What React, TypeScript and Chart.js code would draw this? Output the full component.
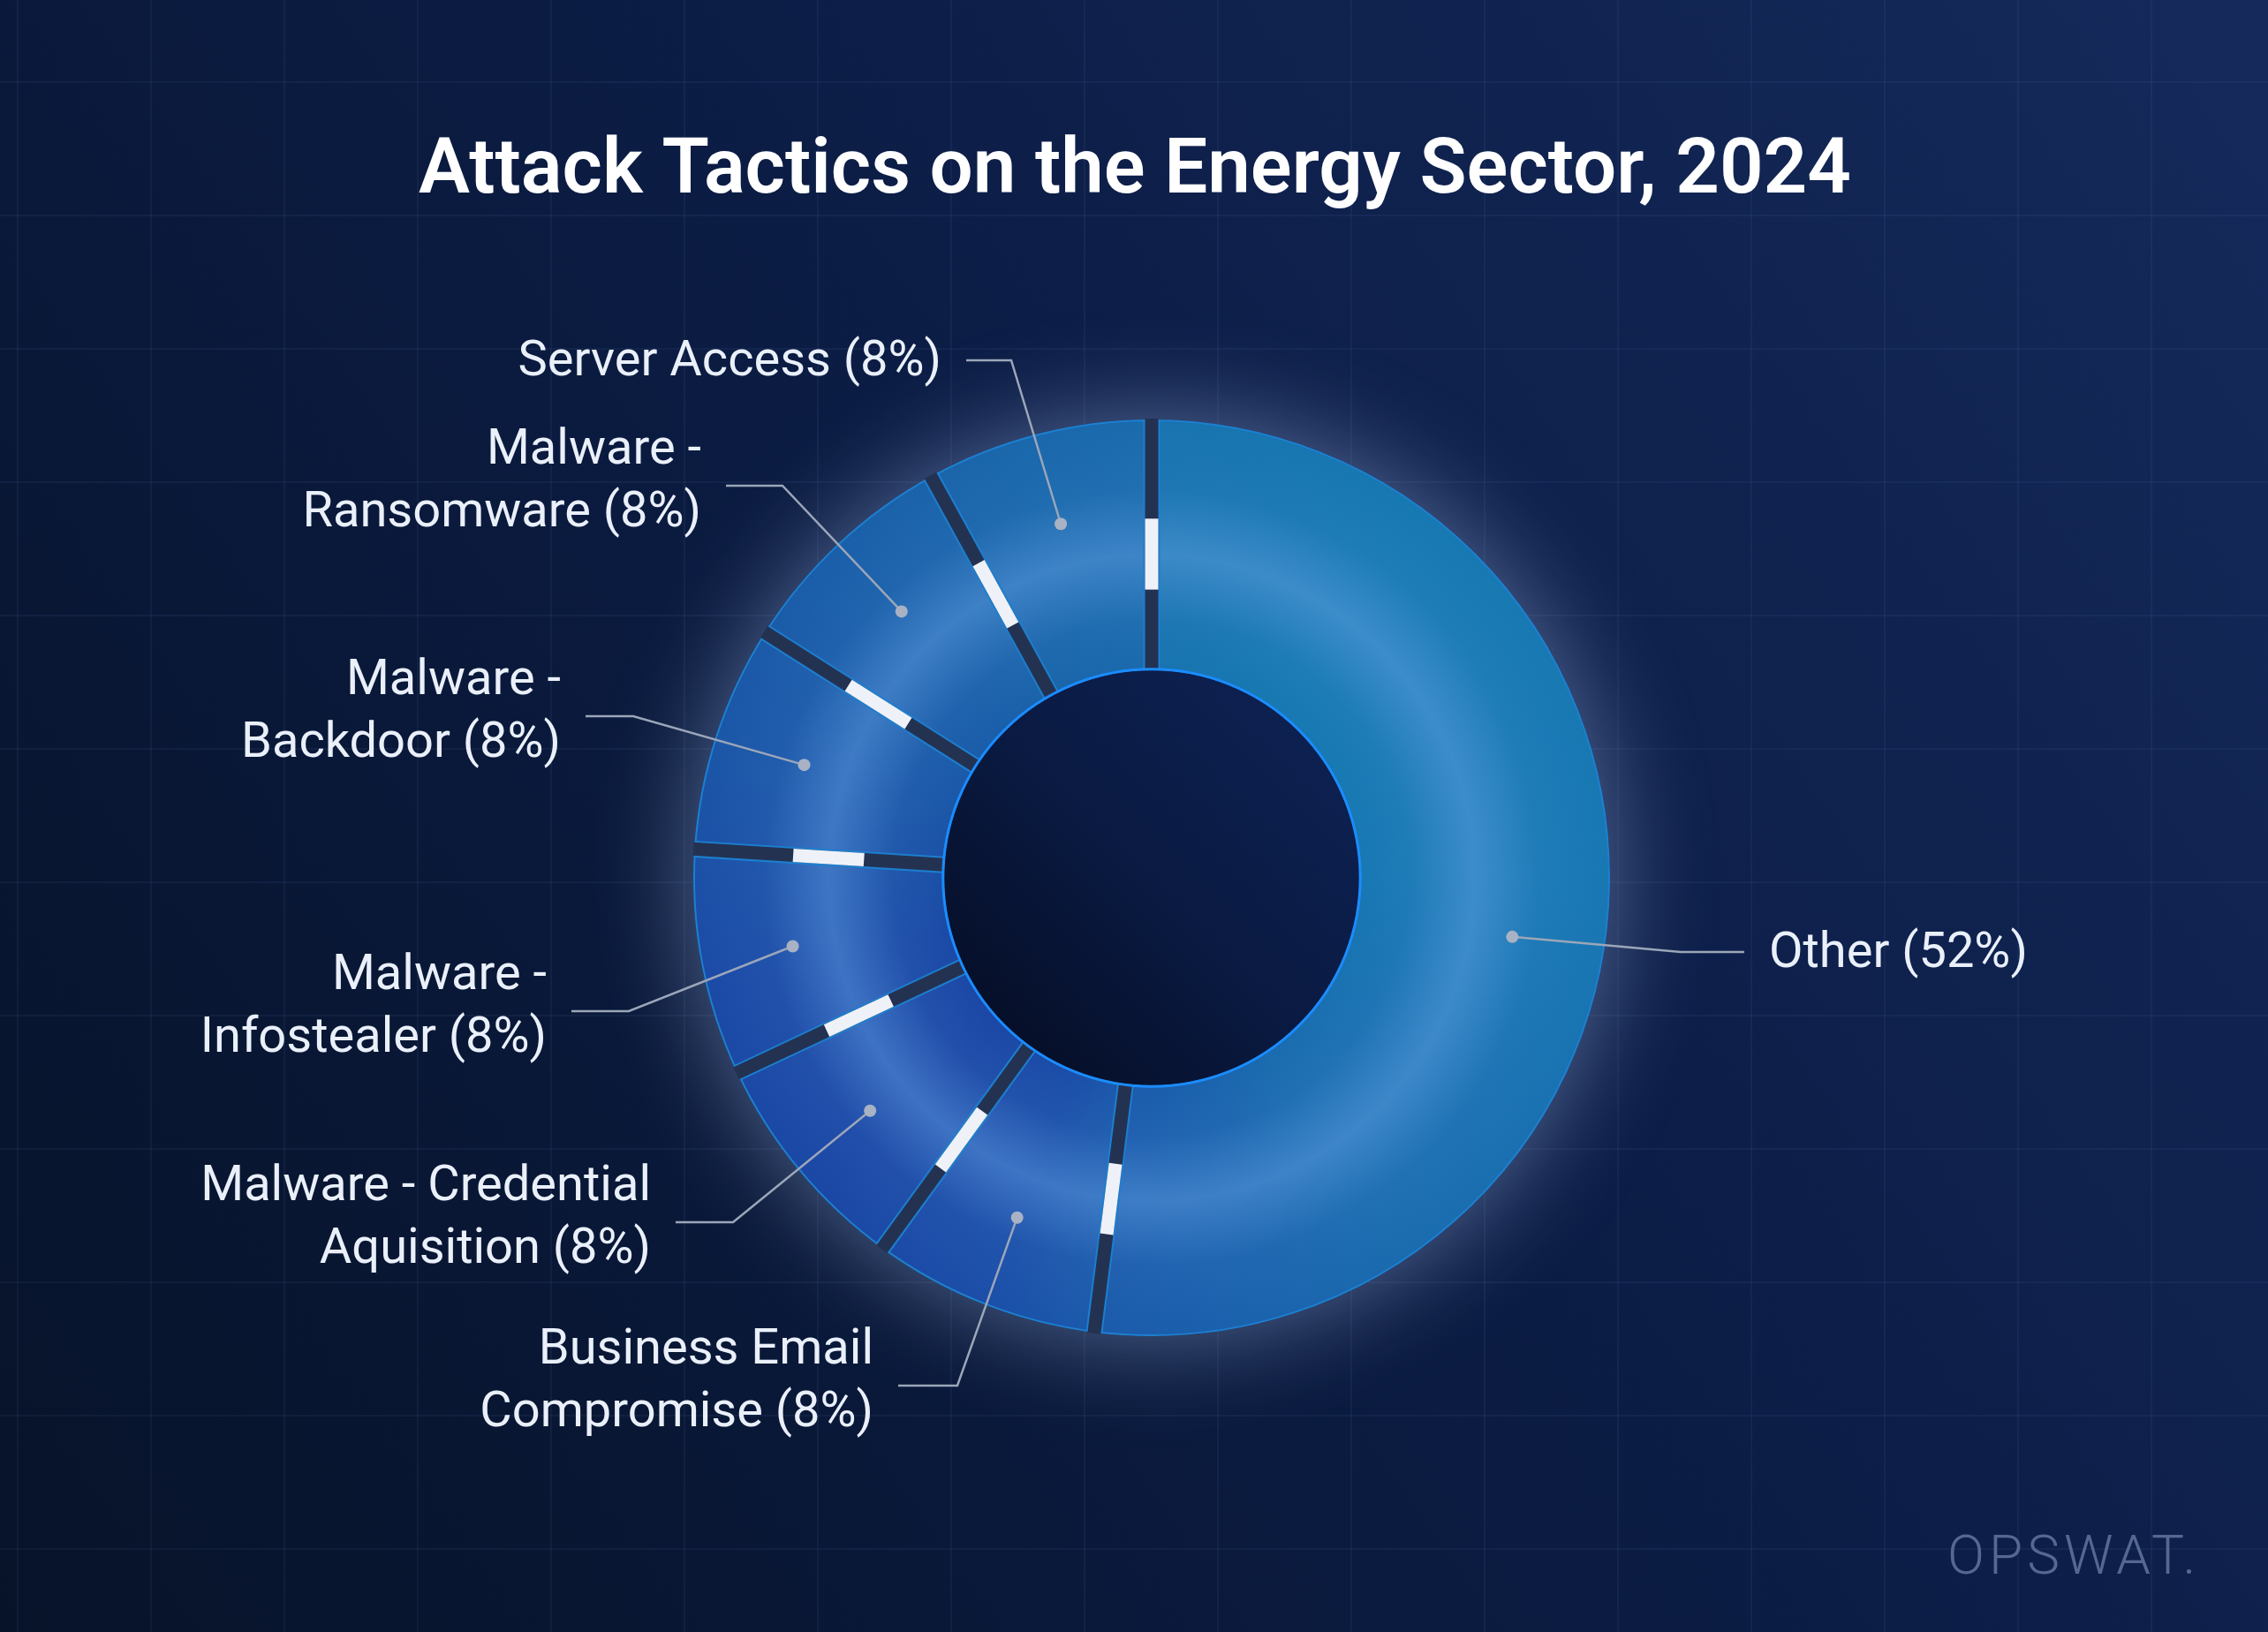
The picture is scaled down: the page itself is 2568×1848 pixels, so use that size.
import React, { useEffect, useRef } from "react";
import { Chart, registerables } from "chart.js";

Chart.register(...registerables);

// ---------- data ----------
const TITLE = "Attack Tactics on the Energy Sector, 2024";
const categories = [
  "Other",
  "Business Email Compromise",
  "Malware - Credential Aquisition",
  "Malware - Infostealer",
  "Malware - Backdoor",
  "Malware - Ransomware",
  "Server Access",
];
const shares = [52, 8, 8, 8, 8, 8, 8];
const BRAND = "OPSWAT.";

// ---------- layout / style (not data) ----------
// label leader geometry, offsets relative to the doughnut centre
const labelLayout = [
  { shift: 5.7, elbow: [599, 84], end: [671, 84], side: "right", breakAfter: "" },
  { shift: 0, elbow: [-220, 575], end: [-287, 575], side: "left", breakAfter: "Business Email" },
  { shift: 0, elbow: [-474, 390], end: [-539, 390], side: "left", breakAfter: "Malware - Credential" },
  { shift: 0, elbow: [-592, 151], end: [-657, 151], side: "left", breakAfter: "Malware -" },
  { shift: 0, elbow: [-587, -183], end: [-641, -183], side: "left", breakAfter: "Malware -" },
  { shift: 0, elbow: [-418, -444], end: [-482, -444], side: "left", breakAfter: "Malware -" },
  { shift: 0, elbow: [-159, -586], end: [-210, -586], side: "left", breakAfter: "" },
];

const W = 2568;
const H = 1848;
const FONT = "Roboto, 'Noto Sans', 'DejaVu Sans', sans-serif";

function labelLines(i: number): string[] {
  const full = `${categories[i]} (${shares[i]}%)`;
  const b = labelLayout[i].breakAfter;
  if (!b) return [full];
  return [full.slice(0, b.length).trim(), full.slice(b.length).trim()];
}

function sliceFill(c: any) {
  const chart = c.chart;
  const area = chart.chartArea;
  if (!area || !(chart.ctx as any).createConicGradient) return "#1a62aa";
  const cx = (area.left + area.right) / 2;
  const cy = (area.top + area.bottom) / 2;
  const g = (chart.ctx as any).createConicGradient(-Math.PI / 2, cx, cy);
  g.addColorStop(0.0, "#1873ae");
  g.addColorStop(0.1, "#1779b2");
  g.addColorStop(0.25, "#1878b3");
  g.addColorStop(0.4, "#1a6caf");
  g.addColorStop(0.52, "#1b5aab");
  g.addColorStop(0.56, "#1b4ea8");
  g.addColorStop(0.63, "#1b47a5");
  g.addColorStop(0.71, "#1b4aa6");
  g.addColorStop(0.79, "#1b55a7");
  g.addColorStop(0.87, "#1a5ea9");
  g.addColorStop(0.95, "#1a67ab");
  g.addColorStop(1.0, "#1a6bad");
  return g;
}

const decor = {
  id: "decor",
  beforeDraw(chart: any) {
    const { ctx, width, height } = chart;
    ctx.save();
    const bg = ctx.createLinearGradient(width, 0, 0, height);
    bg.addColorStop(0, "#152a5b");
    bg.addColorStop(0.45, "#0c1d46");
    bg.addColorStop(1, "#071329");
    ctx.fillStyle = bg;
    ctx.fillRect(0, 0, width, height);
    ctx.strokeStyle = "rgba(130,160,220,0.07)";
    ctx.lineWidth = 2;
    for (let x = 20; x < width; x += 151) {
      ctx.beginPath();
      ctx.moveTo(x, 0);
      ctx.lineTo(x, height);
      ctx.stroke();
    }
    for (let y = 93; y < height; y += 151) {
      ctx.beginPath();
      ctx.moveTo(0, y);
      ctx.lineTo(width, y);
      ctx.stroke();
    }
    ctx.restore();
  },
  beforeDatasetsDraw(chart: any) {
    const el = chart.getDatasetMeta(0).data[0];
    if (!el) return;
    const { x, y, innerRadius, outerRadius } = el.getProps(["x", "y", "innerRadius", "outerRadius"], true);
    const ctx = chart.ctx;
    ctx.save();
    // glow + separator colour underneath the ring
    ctx.shadowColor = "rgba(170,195,240,0.48)";
    ctx.shadowBlur = 115;
    ctx.fillStyle = "#243252";
    ctx.beginPath();
    ctx.arc(x, y, outerRadius + 1, 0, Math.PI * 2);
    ctx.fill();
    ctx.shadowColor = "transparent";
    ctx.shadowBlur = 0;
    // hole
    const hg = ctx.createLinearGradient(x + innerRadius, y - innerRadius, x - innerRadius, y + innerRadius);
    hg.addColorStop(0, "#0e2356");
    hg.addColorStop(0.5, "#0a1a42");
    hg.addColorStop(1, "#040b1f");
    ctx.fillStyle = hg;
    ctx.beginPath();
    ctx.arc(x, y, innerRadius, 0, Math.PI * 2);
    ctx.fill();
    ctx.restore();
  },
  afterDatasetsDraw(chart: any) {
    const ctx = chart.ctx;
    const arcs = chart.getDatasetMeta(0).data;
    if (!arcs.length) return;
    const props = arcs.map((a: any) =>
      a.getProps(["x", "y", "startAngle", "endAngle", "innerRadius", "outerRadius"], true)
    );
    const { x: cx, y: cy, innerRadius: rIn, outerRadius: rOut } = props[0];
    const band = rOut - rIn;
    ctx.save();
    // light band across the ring
    props.forEach((p: any) => {
      const g = ctx.createRadialGradient(cx, cy, rIn, cx, cy, rOut);
      g.addColorStop(0, "rgba(105,165,232,0)");
      g.addColorStop(0.2, "rgba(105,165,232,0.08)");
      g.addColorStop(0.46, "rgba(105,165,232,0.45)");
      g.addColorStop(0.72, "rgba(105,165,232,0.08)");
      g.addColorStop(1, "rgba(105,165,232,0)");
      ctx.fillStyle = g;
      ctx.beginPath();
      ctx.arc(cx, cy, rOut - 1, p.startAngle, p.endAngle);
      ctx.arc(cx, cy, rIn + 1, p.endAngle, p.startAngle, true);
      ctx.closePath();
      ctx.fill();
    });
    // separators with white marks
    props.forEach((p: any) => {
      ctx.save();
      ctx.translate(cx, cy);
      ctx.rotate(p.startAngle);
      ctx.fillStyle = "#1c7fd0";
      ctx.fillRect(rIn, -9.5, band + 1, 19);
      ctx.fillStyle = "#243252";
      ctx.fillRect(rIn - 1, -7.5, band + 3, 15);
      ctx.fillStyle = "#eef2f8";
      ctx.fillRect(rIn + band * 0.32, -7.5, band * 0.285, 15);
      ctx.restore();
    });
    // hole rim
    ctx.strokeStyle = "#1b8cff";
    ctx.lineWidth = 3;
    ctx.beginPath();
    ctx.arc(cx, cy, rIn, 0, Math.PI * 2);
    ctx.stroke();

    // leaders, dots and labels
    const rDot = rIn + band * 0.63;
    ctx.font = `400 56px ${FONT}`;
    ctx.textBaseline = "alphabetic";
    props.forEach((p: any, i: number) => {
      const L = labelLayout[i];
      const mid = (p.startAngle + p.endAngle) / 2 + (L.shift * Math.PI) / 180;
      const dx = cx + rDot * Math.cos(mid);
      const dy = cy + rDot * Math.sin(mid);
      const ex = cx + L.elbow[0];
      const ey = cy + L.elbow[1];
      const tx = cx + L.end[0];
      const ty = cy + L.end[1];
      ctx.strokeStyle = "#9ba6b9";
      ctx.lineWidth = 2.5;
      ctx.beginPath();
      ctx.moveTo(dx, dy);
      ctx.lineTo(ex, ey);
      ctx.lineTo(tx, ty);
      ctx.stroke();
      ctx.fillStyle = "#a9b2c4";
      ctx.beginPath();
      ctx.arc(dx, dy, 7, 0, Math.PI * 2);
      ctx.fill();

      const lines = labelLines(i);
      ctx.fillStyle = "#eaf0fa";
      const right = L.side === "right";
      ctx.textAlign = right ? "left" : "right";
      const textX = right ? tx + 28 : tx - 28;
      if (lines.length === 1) {
        ctx.fillText(lines[0], textX, ty + 17);
      } else {
        ctx.fillText(lines[0], textX, ty - 25);
        ctx.fillText(lines[1], textX, ty + 46);
      }
    });
    ctx.restore();
  },
  afterDraw(chart: any) {
    const ctx = chart.ctx;
    ctx.save();
    ctx.fillStyle = "#ffffff";
    ctx.font = `600 87px ${FONT}`;
    ctx.textAlign = "center";
    ctx.textBaseline = "alphabetic";
    ctx.fillText(TITLE, 1285, 218);
    ctx.fillStyle = "#55688f";
    ctx.font = `300 62px ${FONT}`;
    ctx.textAlign = "left";
    (ctx as any).letterSpacing = "5px";
    ctx.fillText(BRAND, 2205, 1782);
    ctx.restore();
  },
};

export default function App() {
  const ref = useRef<HTMLCanvasElement>(null);
  useEffect(() => {
    document.body.style.margin = "0";
    document.body.style.background = "#0b1c44";
    const canvas = ref.current;
    if (!canvas) return;
    const chart = new Chart(canvas, {
      type: "doughnut",
      data: {
        labels: categories,
        datasets: [
          {
            data: shares,
            backgroundColor: sliceFill as any,
            borderColor: "#1d80d2",
            borderWidth: 2,
            hoverOffset: 0,
          },
        ],
      },
      options: {
        animation: false,
        responsive: true,
        maintainAspectRatio: false,
        devicePixelRatio: 1,
        cutout: "45.6%",
        events: [],
        layout: { padding: { left: 785, right: 745, top: 475, bottom: 335 } },
        plugins: {
          legend: { display: false },
          tooltip: { enabled: false },
          title: { display: false },
        },
      } as any,
      plugins: [decor as any],
    });
    return () => chart.destroy();
  }, []);
  return (
    <div style={{ position: "fixed", left: 0, top: 0, width: W, height: H }}>
      <canvas ref={ref} />
    </div>
  );
}
